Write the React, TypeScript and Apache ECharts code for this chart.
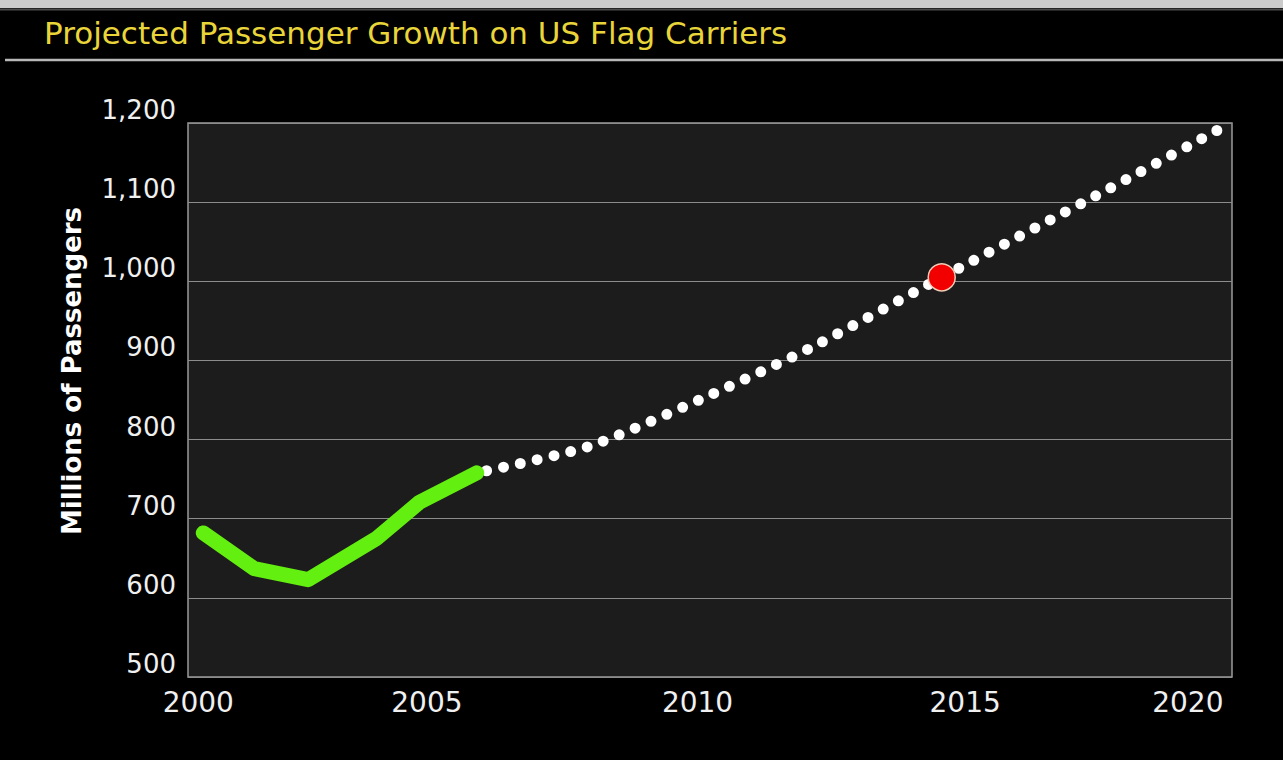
import React, { useEffect, useRef } from "react";
import * as echarts from "echarts";

// ---- data ----
const titleText = "Projected Passenger Growth on US Flag Carriers";
const yAxisName = "Millions of Passengers";
const xTickYears = [2000, 2005, 2010, 2015, 2020];

const actualYears = [2000.0, 2001.0, 2002.06, 2003.4, 2004.25, 2005.37];
const actualValues = [682, 637, 623, 675, 721, 758];

const projYears = [2005.37, 2007.55, 2009.77, 2011.93, 2014.5, 2017.67, 2020.06];
const projValues = [758, 791, 851, 916, 1005, 1113, 1196];

const markerYear = 2014.5;
const markerValue = 1005;

// label nudges (styling only, px of right padding on centered labels)
const xLabelPad: Record<number, number> = { 2000: 10, 2005: 62, 2010: 30, 2015: 4, 2020: 68 };

export default function App() {
  const ref = useRef<HTMLDivElement>(null);

  useEffect(() => {
    if (!ref.current) return;
    const chart = echarts.init(ref.current, null, { renderer: "svg" });

    const rich: Record<string, any> = {};
    xTickYears.forEach((y) => {
      rich["y" + y] = {
        fontFamily: "DejaVu Sans",
        fontSize: 28,
        color: "#f0f0f0",
        padding: [0, xLabelPad[y] || 0, 0, 0],
      };
    });

    chart.setOption({
      animation: false,
      backgroundColor: "#000000",
      title: {
        text: titleText,
        left: 44,
        top: 17,
        padding: 0,
        textStyle: {
          fontFamily: "DejaVu Sans",
          fontWeight: "normal",
          fontSize: 31,
          color: "#e9d53a",
        },
      },
      graphic: [
        { type: "rect", shape: { x: 0, y: 0, width: 1283, height: 8 }, style: { fill: "#cbcbcb" }, silent: true },
        { type: "line", shape: { x1: 0, y1: 9.5, x2: 1283, y2: 9.5 }, style: { stroke: "#4a4a4a", lineWidth: 2 }, silent: true },
        { type: "line", shape: { x1: 5, y1: 60, x2: 1283, y2: 60 }, style: { stroke: "#b8b8b8", lineWidth: 2.4 }, silent: true },
      ],
      grid: {
        left: 188,
        right: 51,
        top: 123,
        bottom: 83,
        show: true,
        backgroundColor: "#1d1c1c",
        borderColor: "#9a9a9a",
        borderWidth: 1.5,
      },
      xAxis: {
        type: "value",
        min: 1999.7,
        max: 2020.2,
        axisLine: { show: false },
        axisTick: { show: false },
        splitLine: { show: false },
        axisLabel: {
          customValues: xTickYears,
          margin: 11,
          fontFamily: "DejaVu Sans",
          fontSize: 28,
          color: "#f0f0f0",
          formatter: (v: number) => `{y${Math.round(v)}|${Math.round(v)}}`,
          rich,
        },
      },
      yAxis: {
        type: "value",
        min: 500,
        max: 1200,
        interval: 100,
        name: yAxisName,
        nameLocation: "middle",
        nameGap: 103,
        nameTextStyle: {
          fontFamily: "DejaVu Sans",
          fontWeight: "bold",
          fontSize: 26,
          color: "#ffffff",
          padding: [0, 0, 0, 58],
        },
        axisLine: { show: false },
        axisTick: { show: false },
        splitLine: { show: true, lineStyle: { color: "#8c8c8c", width: 1.2 } },
        axisLabel: {
          margin: 12,
          fontFamily: "DejaVu Sans",
          fontSize: 26,
          color: "#f0f0f0",
          verticalAlign: "bottom",
          formatter: (v: number) => v.toLocaleString("en-US"),
        },
      },
      series: [
        {
          name: "Projection",
          type: "line",
          data: projYears.map((y, i) => [y, projValues[i]]),
          showSymbol: false,
          symbol: "none",
          smooth: 0.25,
          z: 2,
          lineStyle: {
            color: "#ffffff",
            width: 11,
            type: [0, 17.2],
            dashOffset: 7.2,
            cap: "round",
            join: "round",
          },
        },
        {
          name: "Actual",
          type: "line",
          data: actualYears.map((y, i) => [y, actualValues[i]]),
          showSymbol: false,
          symbol: "none",
          z: 3,
          lineStyle: { color: "#63ef0f", width: 15, cap: "round", join: "round" },
        },
        {
          name: "Marker",
          type: "scatter",
          data: [[markerYear, markerValue]],
          symbol: "circle",
          symbolSize: 27,
          z: 4,
          itemStyle: { color: "#f20000", borderColor: "#f2cdb8", borderWidth: 1.5, opacity: 1 },
        },
      ],
    });

    return () => chart.dispose();
  }, []);

  return (
    <div
      ref={ref}
      style={{ position: "fixed", left: 0, top: 0, width: 1283, height: 760, background: "#000" }}
    />
  );
}
